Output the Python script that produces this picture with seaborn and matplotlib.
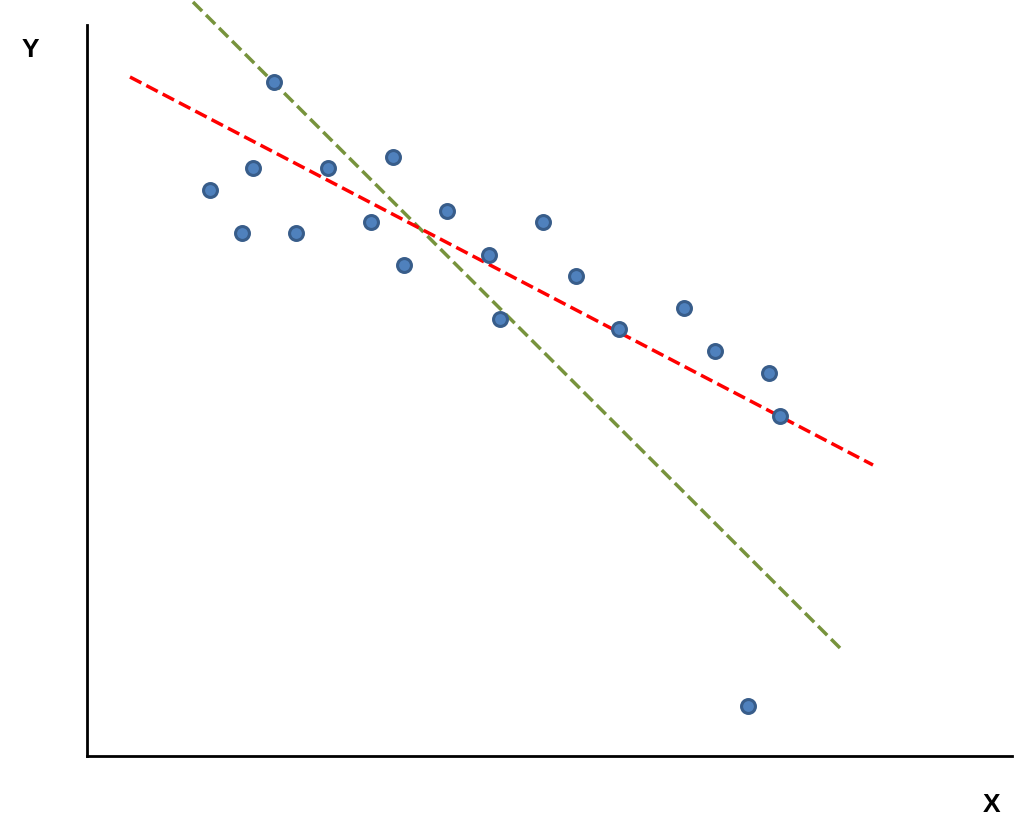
import matplotlib
matplotlib.use("Agg")
import matplotlib.pyplot as plt
import pandas as pd
import seaborn as sns

# scatter points
x_vals = [12.3, 15.5, 16.6, 18.7, 20.9, 24.1, 28.4, 30.6, 31.7, 36.0,
          40.2, 41.3, 45.6, 48.9, 53.2, 59.7, 62.8, 66.1, 68.2, 69.3]
y_vals = [56.6, 52.3, 58.8, 67.4, 52.3, 58.8, 53.4, 59.9, 49.1, 54.5,
          50.1, 43.7, 53.4, 48.0, 42.7, 44.8, 40.5, 5.0, 38.3, 34.0]

# two fitted lines (end points)
red_x = [4.3, 78.6]
red_y = [67.9, 29.1]
green_x = [10.6, 75.3]
green_y = [75.4, 10.8]

pts = pd.DataFrame({"x": x_vals, "y": y_vals})
red = pd.DataFrame({"x": red_x, "y": red_y})
green = pd.DataFrame({"x": green_x, "y": green_y})

sns.set_style("white")
plt.rcParams['font.family'] = ['Liberation Sans', 'DejaVu Sans']

fig = plt.figure(figsize=(10.24, 8.33), dpi=100)
ax = fig.add_axes([87/1024, 77/833, (1012-87)/1024, (756-25)/833])

sns.lineplot(ax=ax, data=green, x="x", y="y", color="#77933C", linewidth=2.5,
             linestyle="--", dashes=(2.6, 1.6), clip_on=False, zorder=2)
sns.lineplot(ax=ax, data=red, x="x", y="y", color="#FF0000", linewidth=2.5,
             linestyle="--", dashes=(2.6, 1.6), clip_on=False, zorder=2)
sns.scatterplot(ax=ax, data=pts, x="x", y="y", s=100, color="#4F81BD",
                edgecolor="#385D8A", linewidth=2.2, zorder=3, clip_on=False)

ax.set_xlim(0, 92.5)
ax.set_ylim(0, 73.1)
ax.set_xticks([])
ax.set_yticks([])
ax.set_xlabel('')
ax.set_ylabel('')
sns.despine(ax=ax, top=True, right=True)
for side in ['left', 'bottom']:
    ax.spines[side].set_color('black')
    ax.spines[side].set_linewidth(2)

fig.text(30/1024, 1 - 50/833, "Y", fontsize=19, fontweight='bold', color='black',
         ha='center', va='center')
fig.text(992/1024, 1 - 805/833, "X", fontsize=19, fontweight='bold', color='black',
         ha='center', va='center')

plt.savefig('out.png', dpi=100)
